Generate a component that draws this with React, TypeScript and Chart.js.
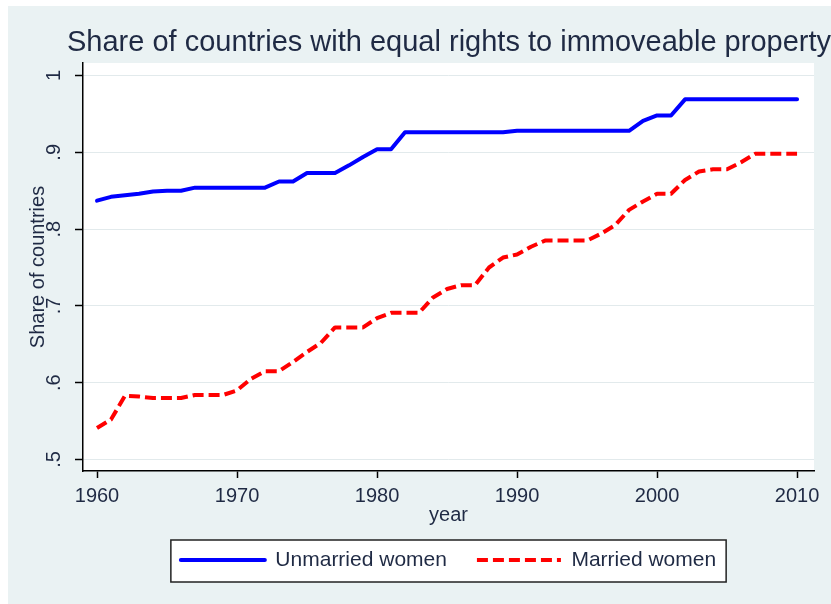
import { useEffect, useRef } from 'react';
import { Chart, registerables } from 'chart.js';

Chart.register(...registerables);

const years = [
  1960, 1961, 1962, 1963, 1964, 1965, 1966, 1967, 1968, 1969,
  1970, 1971, 1972, 1973, 1974, 1975, 1976, 1977, 1978, 1979,
  1980, 1981, 1982, 1983, 1984, 1985, 1986, 1987, 1988, 1989,
  1990, 1991, 1992, 1993, 1994, 1995, 1996, 1997, 1998, 1999,
  2000, 2001, 2002, 2003, 2004, 2005, 2006, 2007, 2008, 2009,
  2010,
];

const unmarriedWomen = [
  0.837, 0.842, 0.844, 0.846, 0.849, 0.85, 0.85, 0.854, 0.854, 0.854,
  0.854, 0.854, 0.854, 0.862, 0.862, 0.873, 0.873, 0.873, 0.883, 0.894,
  0.904, 0.904, 0.926, 0.926, 0.926, 0.926, 0.926, 0.926, 0.926, 0.926,
  0.928, 0.928, 0.928, 0.928, 0.928, 0.928, 0.928, 0.928, 0.928, 0.941,
  0.948, 0.948, 0.969, 0.969, 0.969, 0.969, 0.969, 0.969, 0.969, 0.969,
  0.969,
];

const marriedWomen = [
  0.541, 0.552, 0.583, 0.582, 0.58, 0.58, 0.58, 0.584, 0.584, 0.584,
  0.59, 0.605, 0.615, 0.615, 0.627, 0.64, 0.652, 0.672, 0.672, 0.672,
  0.684, 0.691, 0.691, 0.691, 0.711, 0.722, 0.727, 0.727, 0.75, 0.763,
  0.767, 0.777, 0.785, 0.785, 0.785, 0.785, 0.794, 0.805, 0.825, 0.836,
  0.846, 0.846, 0.864, 0.875, 0.878, 0.878, 0.887, 0.898, 0.898, 0.898,
  0.898,
];

const seriesLabels = ['Unmarried women', 'Married women'];
const xTickValues = [1960, 1970, 1980, 1990, 2000, 2010];
const yTickValues = [0.5, 0.6, 0.7, 0.8, 0.9, 1];
const yTickLabels = ['.5', '.6', '.7', '.8', '.9', '1'];
const chartTitle = 'Share of countries with equal rights to immoveable property';
const xTitle = 'year';
const yTitle = 'Share of countries';

const FONT = "'Liberation Sans', Arial, Helvetica, sans-serif";
const TEXT = '#1f2a44';

const backdropPlugin = {
  id: 'stataBackdrop',
  beforeDraw(chart: any) {
    const { ctx, chartArea: a } = chart;
    ctx.save();
    ctx.fillStyle = '#ffffff';
    ctx.fillRect(a.left, a.top, a.right - a.left, a.bottom - a.top);
    const hb = chart.legend && chart.legend.legendHitBoxes;
    if (hb && hb.length) {
      const l = Math.min(...hb.map((h: any) => h.left)) - 10;
      const r = Math.max(...hb.map((h: any) => h.left + h.width)) + 10;
      const cy = hb[0].top + hb[0].height / 2;
      const t = cy - 20;
      const b = cy + 22;
      ctx.fillStyle = '#ffffff';
      ctx.fillRect(l, t, r - l, b - t);
      ctx.strokeStyle = '#222222';
      ctx.lineWidth = 1.5;
      ctx.strokeRect(l, t, r - l, b - t);
    }
    ctx.restore();
  },
};

export default function App() {
  const ref = useRef<HTMLCanvasElement>(null);

  useEffect(() => {
    const canvas = ref.current;
    if (!canvas) return;
    const chart = new Chart(canvas, {
      type: 'line',
      data: {
        datasets: [
          {
            label: seriesLabels[0],
            data: years.map((x, i) => ({ x, y: unmarriedWomen[i] })),
            borderColor: '#0000ff',
            backgroundColor: '#0000ff',
            borderWidth: 4,
            pointRadius: 0,
            tension: 0,
            borderJoinStyle: 'round',
            borderCapStyle: 'round',
            yAxisID: 'y',
            xAxisID: 'x',
          },
          {
            label: seriesLabels[1],
            data: years.map((x, i) => ({ x, y: marriedWomen[i] })),
            borderColor: '#ff0000',
            backgroundColor: '#ff0000',
            borderWidth: 4,
            borderDash: [11, 5],
            pointRadius: 0,
            tension: 0,
            borderJoinStyle: 'round',
            borderCapStyle: 'butt',
            yAxisID: 'y',
            xAxisID: 'x',
          },
        ],
      },
      options: {
        responsive: false,
        animation: false,
        devicePixelRatio: 1,
        events: [],
        layout: { padding: { left: 0, right: 0, top: 0, bottom: 23.5 } },
        scales: {
          x: {
            type: 'linear',
            position: 'bottom',
            min: 1959,
            max: 2011.21,
            afterBuildTicks: (s: any) => {
              s.ticks = xTickValues.map((v) => ({ value: v }));
            },
            afterFit: (s: any) => {
              s.height = 48.5;
            },
            grid: {
              drawOnChartArea: false,
              drawTicks: true,
              tickLength: 7,
              tickColor: '#000000',
              tickWidth: 1.5,
            },
            border: { display: true, color: '#000000', width: 1.5 },
            ticks: {
              autoSkip: false,
              maxRotation: 0,
              minRotation: 0,
              padding: 6,
              color: TEXT,
              font: { family: FONT, size: 20 },
              callback: (v: any) => String(v),
            },
            title: {
              display: true,
              text: xTitle,
              color: TEXT,
              font: { family: FONT, size: 20 },
              padding: { top: 0, bottom: -7.5 },
            },
          },
          y: {
            type: 'linear',
            position: 'left',
            min: 0.485,
            max: 1.0163,
            afterBuildTicks: (s: any) => {
              s.ticks = yTickValues.map((v) => ({ value: v }));
            },
            afterFit: (s: any) => {
              s.width = 75;
            },
            grid: {
              color: '#e2eaec',
              lineWidth: 1,
              drawTicks: true,
              tickLength: 8,
              tickColor: '#000000',
              tickWidth: 1.5,
            },
            border: { display: true, color: '#000000', width: 1.5 },
            ticks: {
              autoSkip: false,
              minRotation: 90,
              maxRotation: 90,
              crossAlign: 'center',
              padding: 12,
              color: TEXT,
              font: { family: FONT, size: 20 },
              callback: (_v: any, i: number) => yTickLabels[i],
            },
            title: {
              display: true,
              text: yTitle,
              color: TEXT,
              font: { family: FONT, size: 20 },
              padding: { top: 18, bottom: 0 },
            },
          },
          pad: {
            type: 'linear',
            position: 'right',
            display: true,
            grid: { display: false, drawTicks: false },
            border: { display: false },
            ticks: { display: false },
            title: { display: false },
            afterFit: (s: any) => {
              s.width = 17;
            },
          },
        },
        plugins: {
          tooltip: { enabled: false },
          title: {
            display: true,
            text: chartTitle,
            align: 'end',
            fullSize: true,
            color: TEXT,
            font: { family: FONT, size: 29, weight: 'normal' },
            padding: { top: 19.6, bottom: 2.6 },
          },
          legend: {
            display: true,
            position: 'bottom',
            align: 'center',
            fullSize: false,
            labels: {
              usePointStyle: true,
              pointStyle: 'line',
              pointStyleWidth: 84,
              padding: 30,
              color: TEXT,
              font: { family: FONT, size: 21 },
              generateLabels: (c: any) => {
                const items = (Chart.defaults as any).plugins.legend.labels.generateLabels(c);
                items.forEach((it: any) => {
                  const ds = c.data.datasets[it.datasetIndex];
                  it.lineDash = ds.borderDash || [];
                  it.lineWidth = ds.borderWidth;
                  it.strokeStyle = ds.borderColor;
                  it.fillStyle = ds.borderColor;
                  it.lineCap = ds.borderCapStyle;
                  it.pointStyle = 'line';
                });
                return items;
              },
            },
          },
        },
      },
      plugins: [backdropPlugin],
    } as any);
    return () => chart.destroy();
  }, []);

  return (
    <div
      style={{
        position: 'absolute',
        left: 8,
        top: 6,
        width: 823,
        height: 598,
        background: '#eaf2f3',
      }}
    >
      <canvas
        ref={ref}
        width={823}
        height={598}
        style={{ display: 'block', width: 823, height: 598 }}
      />
    </div>
  );
}
